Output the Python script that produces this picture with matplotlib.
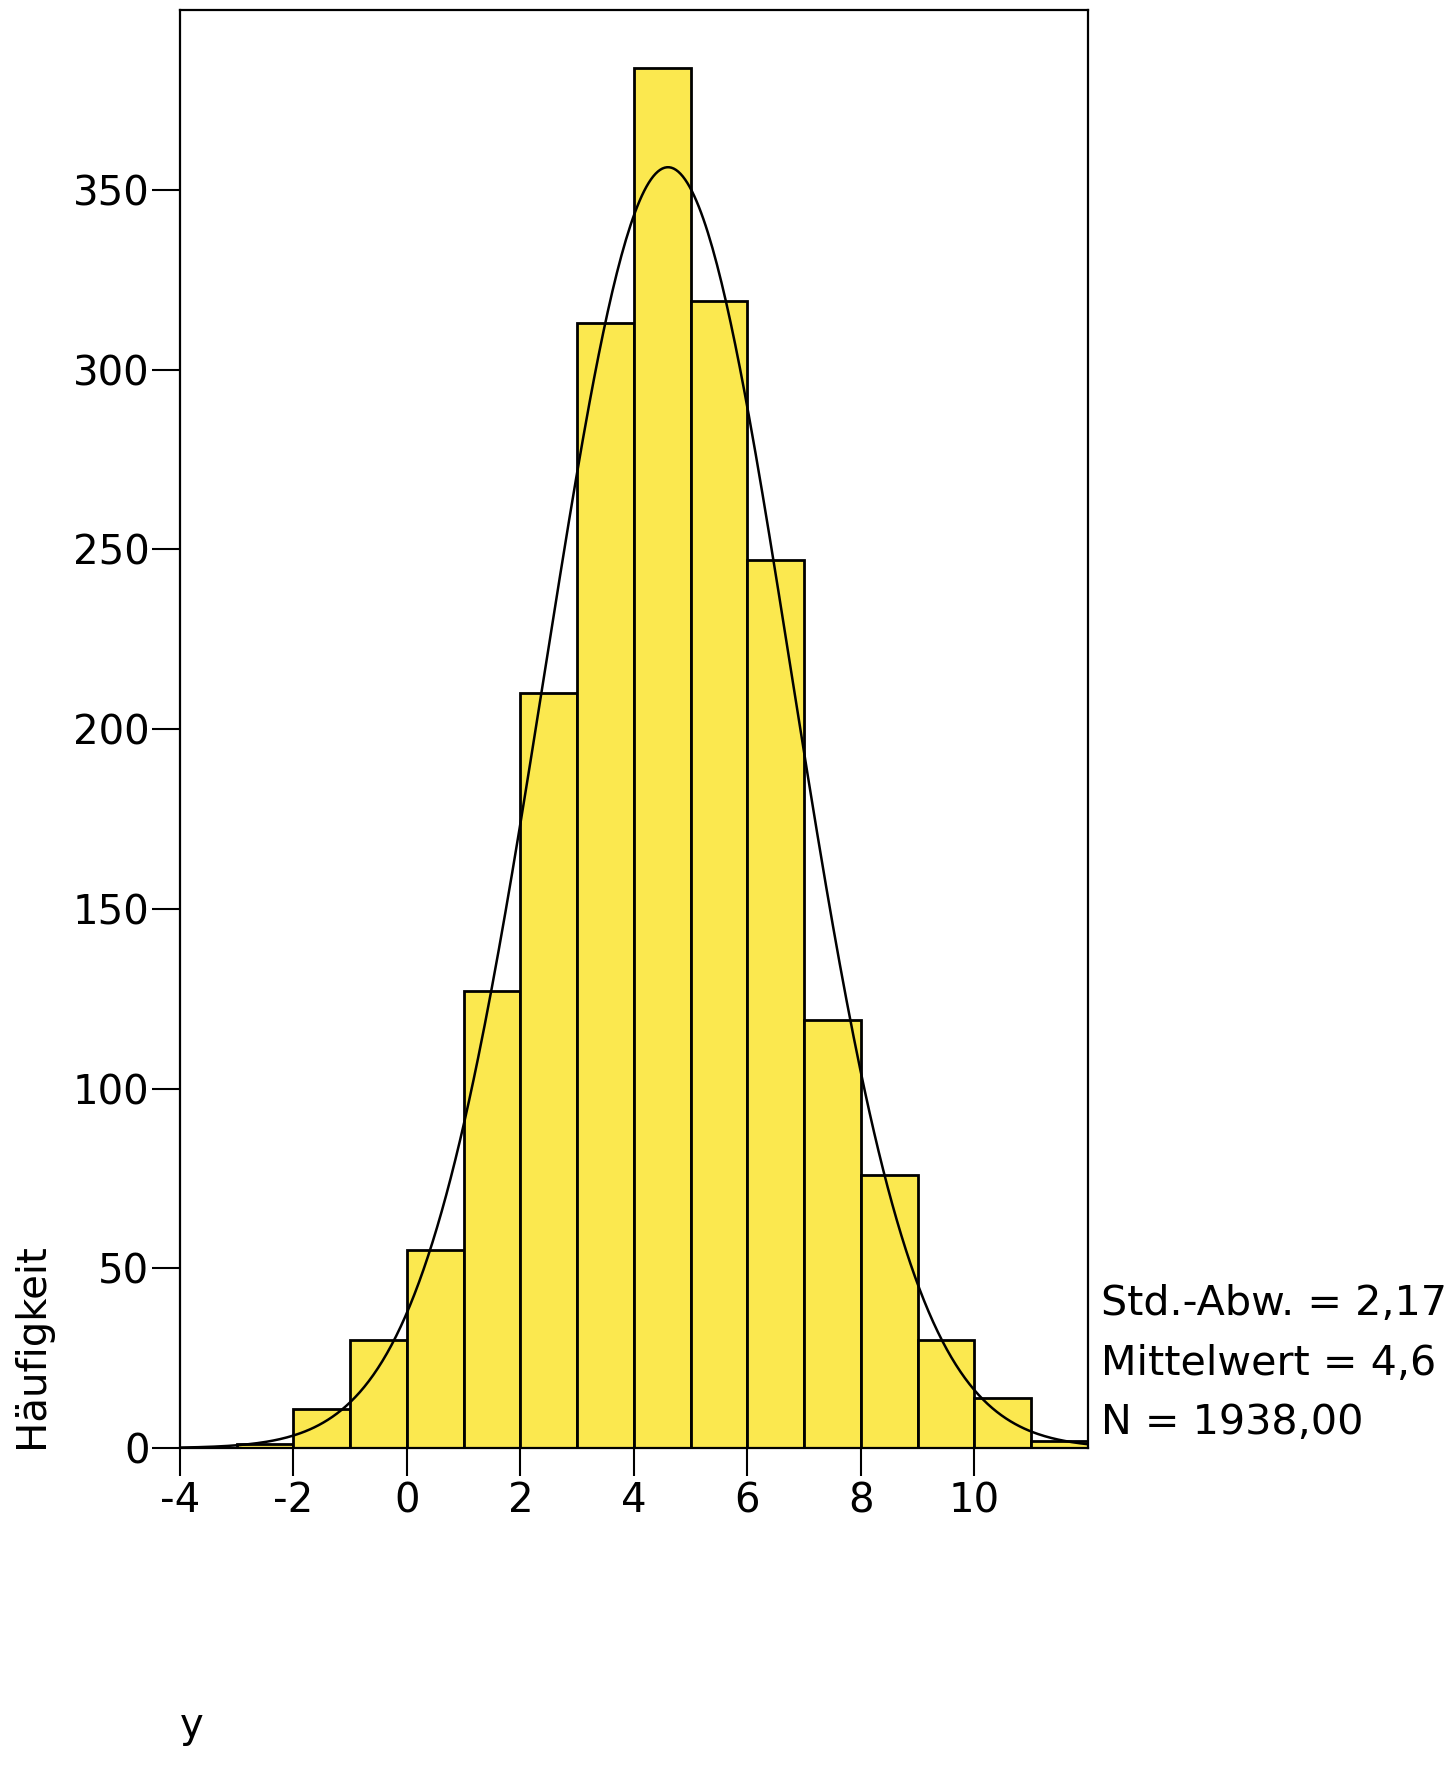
import numpy as np
import matplotlib
matplotlib.use("Agg")
import matplotlib.pyplot as plt

# histogram bins (width 1) and counts
bin_left = [-3, -2, -1, 0, 1, 2, 3, 4, 5, 6, 7, 8, 9, 10, 11]
counts = [1, 11, 30, 55, 127, 210, 313, 384, 319, 247, 119, 76, 30, 14, 2]

# stats shown beside the plot
std_dev = 2.17
mean = 4.6
n_total = 1938

x_ticks = [-4, -2, 0, 2, 4, 6, 8, 10]
y_ticks = [0, 50, 100, 150, 200, 250, 300, 350]

fig = plt.figure(figsize=(14.56, 17.67), dpi=100)
ax = fig.add_axes([0.1236, 0.1805, 0.6236, 0.8138])

ax.bar(bin_left, counts, width=1.0, align="edge",
       color="#fbe84f", edgecolor="black", linewidth=2)

# fitted normal curve (count scale, bin width 1)
xs = np.linspace(-4, 12, 400)
pdf = np.exp(-0.5 * ((xs - mean) / std_dev) ** 2) / (std_dev * np.sqrt(2 * np.pi))
ax.plot(xs, pdf * n_total * 1.0, color="black", linewidth=1.8)

ax.set_xlim(-4, 12)
ax.set_ylim(0, 400)
ax.set_xticks(x_ticks)
ax.set_xticklabels([str(t) for t in x_ticks])
ax.set_yticks(y_ticks)
ax.tick_params(axis="both", direction="out", length=20, width=1.5,
               labelsize=29, pad=2)
ax.tick_params(axis="x", pad=4)
for sp in ax.spines.values():
    sp.set_linewidth(1.6)

fig.text(0.022, 0.1805, "Häufigkeit", rotation=90, fontsize=29,
         ha="center", va="bottom")
fig.text(0.132, 0.012, "y", fontsize=29, ha="center", va="bottom")

stats = ["Std.-Abw. = " + f"{std_dev:.2f}".replace(".", ","),
         "Mittelwert = " + f"{mean}".replace(".", ","),
         "N = " + f"{n_total:.2f}".replace(".", ",")]
for i, s in enumerate(stats):
    fig.text(0.756, 0.262 - i * 0.0338, s, fontsize=29.7, ha="left", va="center")

plt.savefig("out.png", dpi=100)
plt.close()
